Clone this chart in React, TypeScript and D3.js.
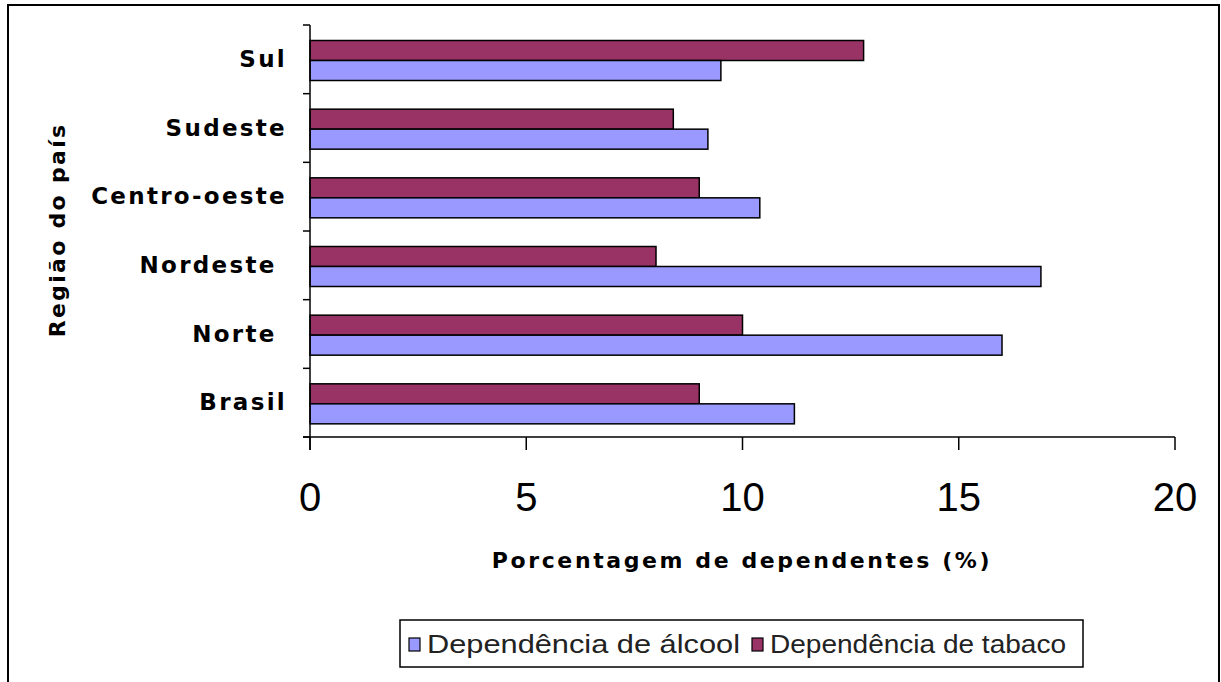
import React, { useEffect, useRef } from 'react';
import * as d3 from 'd3';

// regions, bottom to top as in the picture
const regions = ['Brasil', 'Norte ', 'Nordeste ', 'Centro-oeste', 'Sudeste', 'Sul'];
const alcohol = [11.2, 16.0, 16.9, 10.4, 9.2, 9.5];
const tobacco = [9.0, 10.0, 8.0, 9.0, 8.4, 12.8];
const xTicks = [0, 5, 10, 15, 20];
const seriesNames = ['Dependência de álcool', 'Dependência de tabaco'];
const seriesColors = ['#9999FF', '#993366'];

const App = () => {
    const svgRef = useRef<SVGSVGElement>(null);

    useEffect(() => {
        const svg = d3.select(svgRef.current);
        svg.selectAll('*').remove();

        const left = 310, right = 1175, top = 25, bottom = 437;

        // outer frame
        svg.append('rect')
            .attr('x', 8).attr('y', 5)
            .attr('width', 1211).attr('height', 700)
            .attr('fill', 'white').attr('stroke', 'black').attr('stroke-width', 2);

        const x = d3.scaleLinear().domain([0, 20]).range([left, right]);
        const y = d3.scaleBand().domain(regions).range([bottom, top]);
        const inner = d3.scaleBand().domain(['tob', 'alc']).range([0, 40]);
        const pad = 15.5;

        const rows = regions.map((r, i) => ({ r, alc: alcohol[i], tob: tobacco[i] }));

        const g = svg.append('g');
        rows.forEach(d => {
            const y0 = (y(d.r) as number) + pad;
            g.append('rect')
                .attr('x', x(0)).attr('y', y0 + (inner('tob') as number))
                .attr('width', x(d.tob) - x(0)).attr('height', inner.bandwidth())
                .attr('fill', seriesColors[1]).attr('stroke', 'black').attr('stroke-width', 1.5);
            g.append('rect')
                .attr('x', x(0)).attr('y', y0 + (inner('alc') as number))
                .attr('width', x(d.alc) - x(0)).attr('height', inner.bandwidth())
                .attr('fill', seriesColors[0]).attr('stroke', 'black').attr('stroke-width', 1.5);
        });

        // y axis
        const yAxis = svg.append('g');
        yAxis.append('line')
            .attr('x1', left).attr('x2', left).attr('y1', top).attr('y2', bottom + 13)
            .attr('stroke', 'black').attr('stroke-width', 1.5);
        d3.range(regions.length + 1).forEach(i => {
            const yy = top + i * y.step();
            yAxis.append('line')
                .attr('x1', left - 7).attr('x2', left).attr('y1', yy).attr('y2', yy)
                .attr('stroke', 'black').attr('stroke-width', 1.5);
        });
        regions.forEach(r => {
            yAxis.append('text')
                .attr('x', 287).attr('y', (y(r) as number) + y.bandwidth() / 2 + 1)
                .attr('text-anchor', 'end').attr('dominant-baseline', 'middle')
                .attr('font-family', 'DejaVu Sans').attr('font-weight', 'bold')
                .attr('font-size', 23).attr('letter-spacing', 2.3)
                .style('white-space', 'pre')
                .text(r);
        });

        // x axis
        const xAxis = svg.append('g');
        xAxis.append('line')
            .attr('x1', left - 7).attr('x2', right).attr('y1', bottom).attr('y2', bottom)
            .attr('stroke', 'black').attr('stroke-width', 1.5);
        xTicks.forEach(t => {
            xAxis.append('line')
                .attr('x1', x(t)).attr('x2', x(t)).attr('y1', bottom).attr('y2', bottom + 13)
                .attr('stroke', 'black').attr('stroke-width', 1.5);
            xAxis.append('text')
                .attr('x', x(t)).attr('y', 511)
                .attr('text-anchor', 'middle')
                .attr('font-family', 'Liberation Sans').attr('font-size', 40)
                .text(t);
        });

        svg.append('text')
            .attr('x', 742).attr('y', 568)
            .attr('text-anchor', 'middle')
            .attr('font-family', 'DejaVu Sans').attr('font-weight', 'bold')
            .attr('font-size', 22).attr('letter-spacing', 2.6)
            .text('Porcentagem de dependentes (%)');

        svg.append('text')
            .attr('transform', 'translate(65,230) rotate(-90)')
            .attr('text-anchor', 'middle')
            .attr('font-family', 'DejaVu Sans').attr('font-weight', 'bold')
            .attr('font-size', 22).attr('letter-spacing', 2.3)
            .text('Região do país');

        // legend
        const lg = svg.append('g');
        lg.append('rect')
            .attr('x', 400).attr('y', 620).attr('width', 683).attr('height', 47)
            .attr('fill', 'white').attr('stroke', 'black').attr('stroke-width', 1.5);
        const lx = [409, 752];
        const lw = [313, 296];
        seriesNames.forEach((n, i) => {
            lg.append('rect')
                .attr('x', lx[i]).attr('y', 638).attr('width', 11).attr('height', 13)
                .attr('fill', seriesColors[i]).attr('stroke', 'black').attr('stroke-width', 1.2);
            lg.append('text')
                .attr('x', lx[i] + 18).attr('y', 653)
                .attr('font-family', 'Liberation Sans').attr('font-size', 25)
                .attr('textLength', lw[i]).attr('lengthAdjust', 'spacingAndGlyphs')
                .attr('fill', '#222')
                .text(n);
        });
    }, []);

    return (
        <svg ref={svgRef} width={1221} height={682}
            style={{ position: 'absolute', left: 0, top: 0, background: 'white' }} />
    );
};

export default App;
